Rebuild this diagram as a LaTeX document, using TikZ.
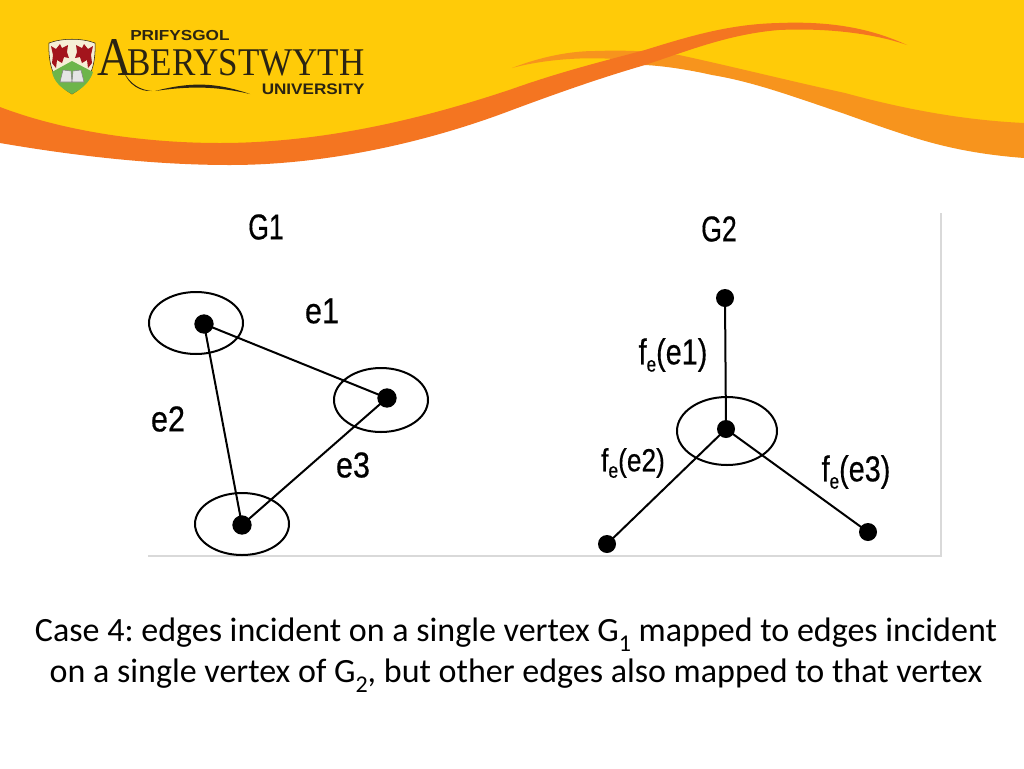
\documentclass[tikz,border=0pt]{standalone}
\usepackage{fontspec}
\usepackage{graphicx}
\setmainfont{Carlito}
\newfontfamily\lsans{Liberation Sans}
\newfontfamily\labfont[FakeBold=0.5]{Liberation Sans}
\newfontfamily\lserif{Liberation Serif}
\newcommand{\nar}[2][.76]{\scalebox{#1}[1]{\labfont #2}}
\newcommand{\lowr}[1]{\raisebox{-.62ex}{\fontsize{18pt}{18pt}\selectfont #1}}
\newcommand{\fsub}[1]{\raisebox{-.38ex}{\fontsize{16pt}{16pt}\selectfont #1}}
\definecolor{bandyellow}{HTML}{FFCB08}
\definecolor{bandorange}{HTML}{F47521}
\definecolor{bandlight}{HTML}{F7941D}
\definecolor{framegray}{HTML}{D9D9D9}
\definecolor{logoink}{HTML}{2B2412}
\definecolor{dragonred}{HTML}{A3141C}
\definecolor{shieldgreen}{HTML}{6DB54A}
\definecolor{shieldcream}{HTML}{F6EFD6}
\tikzset{
  x=0.75pt,y=-0.75pt,
  ring/.style={draw=black,line width=1.5pt,ellipse,inner sep=0pt,minimum width=#1},
  vertex/.style={circle,fill=black,inner sep=0pt,minimum size=13.5pt},
  edgeline/.style={line width=1.5pt,black},
  biglabel/.style={inner sep=0pt,font=\fontsize{27pt}{30pt}\selectfont},
  caption/.style={inner sep=0pt,anchor=base,font=\fontsize{25.5pt}{30pt}\selectfont},
  logotext/.style={inner sep=0pt,anchor=south west,text=logoink}
}
\usetikzlibrary{shapes.geometric}
\begin{document}
\frenchspacing
\begin{tikzpicture}
\useasboundingbox (0,0) rectangle (1024,768);
\fill[white] (0,0) rectangle (1024,768);
% banner
\fill[bandyellow] (0,0) -- (1024,0) -- (1024,135)
  .. controls (960,128) and (900,115) .. (845,102)
  .. controls (790,88) and (730,70) .. (679,62) -- (645,58)
  .. controls (600,70) and (555,85) .. (512,100)
  .. controls (420,133) and (320,155) .. (225,155)
  .. controls (145,150) and (70,140) .. (0,125) -- cycle;
\fill[bandlight] (512,68) .. controls (540,57) and (570,51) .. (595,51)
  .. controls (625,50) and (650,51) .. (679,55)
  .. controls (730,66) and (790,81) .. (845,93)
  .. controls (900,108) and (960,120) .. (1024,123)
  -- (1024,158) .. controls (985,155) and (950,149) .. (912,137)
  .. controls (890,130) and (870,123) .. (845,114)
  .. controls (800,99) and (755,82) .. (712,75)
  .. controls (690,70) and (665,66) .. (645,65)
  -- (625,60) .. controls (590,56) and (545,59) .. (512,68) -- cycle;
\fill[bandorange] (0,107) .. controls (60,130) and (140,143) .. (220,143)
  .. controls (320,143) and (420,120) .. (512,89)
  .. controls (560,72) and (600,62) .. (645,50)
  .. controls (690,36) and (730,24) .. (779,23)
  .. controls (830,21) and (870,28) .. (907,45)
  .. controls (870,32) and (820,28) .. (779,30)
  .. controls (730,34) and (690,50) .. (645,65)
  .. controls (600,78) and (555,94) .. (512,110)
  .. controls (420,145) and (320,165) .. (230,165)
  .. controls (150,165) and (70,155) .. (0,143) -- cycle;
% logo shield
\filldraw[fill=shieldcream,draw=logoink,line width=.4pt] (49,43) .. controls (62,38) and (82,38) .. (95,43)
  .. controls (96,65) and (90,84) .. (72,94) .. controls (54,84) and (48,65) .. (49,43) -- cycle;
\fill[shieldgreen] (72,61) -- (93,72) .. controls (90,82) and (82,89) .. (72,94) .. controls (62,89) and (54,82) .. (52,72) -- cycle;
\fill[dragonred] (51,46) -- (56,49) -- (60,44) -- (62,48) -- (68,45) -- (67,52) -- (69,58) -- (64,57) -- (62,63) -- (57,60) -- (56,68) -- (52,63) -- (53,55) -- cycle;
\fill[dragonred] (93,46) -- (88,49) -- (84,44) -- (82,48) -- (76,45) -- (77,52) -- (75,58) -- (80,57) -- (82,63) -- (87,60) -- (88,68) -- (92,63) -- (91,55) -- cycle;
\fill[white!80!gray,draw=gray,line width=.4pt] (60,82) -- (63,70) -- (71,71) -- (72,82) -- cycle;
\fill[white!80!gray,draw=gray,line width=.4pt] (84,82) -- (81,70) -- (73,71) -- (72,82) -- cycle;
% logo text
\node[logotext] (prifysgol) at (130,40.5) {\resizebox{74.5pt}{7.6pt}{\lsans\bfseries PRIFYSGOL}};
\node[logotext] (biga) at (97,76) {\resizebox{26pt}{27pt}{\lserif A}};
\node[logotext] (berystwyth) at (127,76) {\resizebox{178pt}{19.5pt}{\lserif BERYSTWYTH}};
\node[logotext] (university) at (261.5,95) {\resizebox{77pt}{8pt}{\lsans\bfseries UNIVERSITY}};
\fill[logoink] (124,72) .. controls (130,84) and (140,90) .. (152,91) .. controls (140,92) and (128,84) .. (124,72) -- cycle;
\fill[logoink] (155,91) .. controls (190,82) and (215,82) .. (250,94) .. controls (215,86) and (190,86) .. (155,91) -- cycle;
% image frame
\coordinate (frametop) at (941,213);
\coordinate (framecorner) at (941,556);
\coordinate (frameleft) at (148,556);
\draw[framegray,line width=.8pt] (frametop) -- (framecorner) -- (frameleft);
% G1
\node[ring=94*0.75pt,minimum height=62*0.75pt] (r1) at (196,323) {};
\node[ring=94*0.75pt,minimum height=64*0.75pt] (r2) at (381,400) {};
\node[ring=94*0.75pt,minimum height=62*0.75pt] (r3) at (242,524) {};
\node[vertex,minimum size=14.5pt] (a) at (204,324) {};
\node[vertex,minimum size=14.5pt] (b) at (387,398) {};
\node[vertex,minimum size=14.5pt] (c) at (242,525) {};
\draw[edgeline] (a.center) -- (b.center);
\draw[edgeline] (a.center) -- (c.center);
\draw[edgeline] (b.center) -- (c.center);
% G2
\node[ring=100*0.75pt,minimum height=68*0.75pt] (r4) at (727,431) {};
\node[vertex] (p) at (725,298) {};
\node[vertex] (q) at (726,429) {};
\node[vertex] (s) at (607,544) {};
\node[vertex] (t) at (868,532) {};
\draw[edgeline] (p.center) -- (q.center);
\draw[edgeline] (q.center) -- (s.center);
\draw[edgeline] (q.center) -- (t.center);
% labels
\node[biglabel] (g1) at (266,227) {\nar[.74]{G1}};
\node[biglabel] (e1) at (322,311) {\nar[.85]{e1}};
\node[biglabel] (e2) at (168,419) {\nar[.85]{e2}};
\node[biglabel] (e3) at (353,465) {\nar[.85]{e3}};
\node[biglabel] (g2) at (719,229) {\nar[.74]{G2}};
\node[biglabel] (f1) at (673,355) {\nar[.8]{f\fsub{e}(e1)}};
\node[biglabel,font=\fontsize{24pt}{28pt}\selectfont] (f2) at (633,463) {\nar[.82]{f\fsub{e}(e2)}};
\node[biglabel] (f3) at (856,472) {\nar[.8]{f\fsub{e}(e3)}};
% caption
\node[caption] (cap1) at (516,641) {Case 4: edges incident on a single vertex G\lowr{1} mapped to edges incident};
\node[caption] (cap2) at (516,682) {on a single vertex of G\lowr{2}, but other edges also mapped to that vertex};
\end{tikzpicture}
\end{document}
